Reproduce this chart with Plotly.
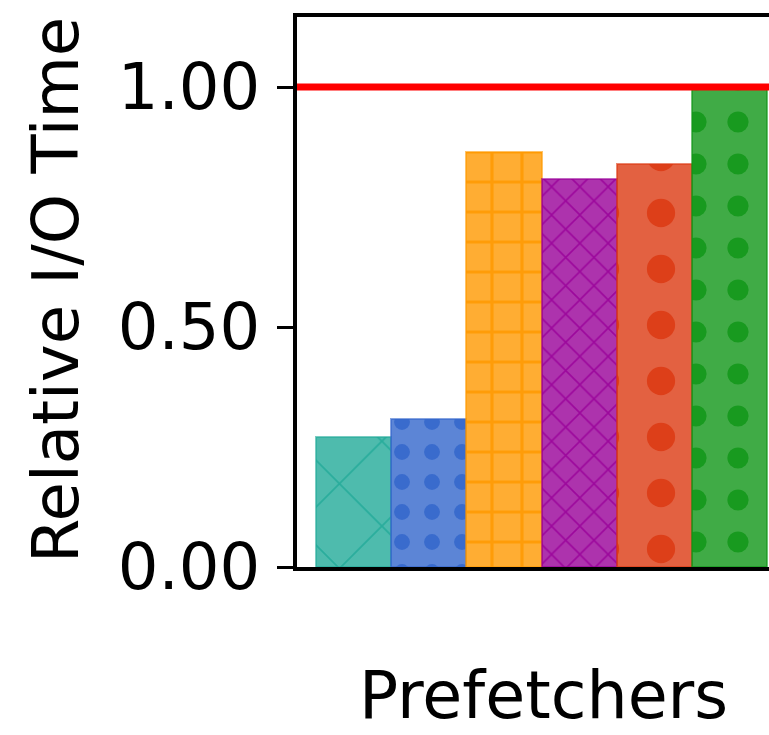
import plotly.graph_objects as go

prefetchers = ["P1", "P2", "P3", "P4", "P5", "P6"]
relative_io_time = [0.270, 0.309, 0.864, 0.808, 0.840, 0.995]
colors = ["#22AA99", "#3366CC", "#FF9900", "#990099", "#DC3912", "#109618"]
pattern_shapes = ["x", ".", "+", "x", ".", "."]
pattern_sizes = [60, 30, 30, 20, 56, 42]
pattern_solidity = [0.06, 0.22, 0.2, 0.15, 0.2, 0.2]
baseline = 1.0
y_ticks = [0.0, 0.5, 1.0]
y_tick_labels = ["0.00", "0.50", "1.00"]
group = ["Prefetchers"]

def rgba(h, a):
    h = h.lstrip("#")
    r, g, b = int(h[0:2], 16), int(h[2:4], 16), int(h[4:6], 16)
    return f"rgba({r},{g},{b},{a})"

fig = go.Figure()
for i, name in enumerate(prefetchers):
    fig.add_trace(go.Bar(
        x=group, y=[relative_io_time[i]], name=name,
        marker=dict(
            color=rgba(colors[i], 0.8),
            line=dict(color=rgba(colors[i], 0.6), width=2),
            pattern=dict(shape=pattern_shapes[i], fgcolor=colors[i],
                         fgopacity=0.85, size=pattern_sizes[i],
                         solidity=pattern_solidity[i], fillmode="overlay"),
        ),
        showlegend=False,
    ))

fig.add_hline(y=baseline, line=dict(color="#FF0000", width=7), layer="above")

font = "DejaVu Sans"
fig.update_layout(
    width=769, height=735,
    margin=dict(l=297, r=0, t=17, b=168),
    paper_bgcolor="white", plot_bgcolor="white",
    barmode="group", bargap=0, bargroupgap=0,
    font=dict(family=font, size=64, color="black"),
    xaxis=dict(type="category", range=[-0.5421, 0.5044], showticklabels=False,
               ticks="", showgrid=False, zeroline=False,
               showline=True, linecolor="black", linewidth=4, mirror=True),
    yaxis=dict(range=[0, 1.146], tickvals=y_ticks, ticktext=y_tick_labels,
               ticks="outside", ticklen=16, tickwidth=3, tickcolor="black",
               ticklabelstandoff=4,
               showgrid=False, zeroline=False,
               showline=True, linecolor="black", linewidth=4,
               tickfont=dict(family=font, size=64)),
    annotations=[
        dict(text="Prefetchers", xref="paper", yref="paper", x=0.522, y=-0.234,
             xanchor="center", yanchor="middle", showarrow=False,
             font=dict(family=font, size=65)),
        dict(text="Relative I/O Time", xref="paper", yref="paper", x=-0.51, y=0.504,
             xanchor="center", yanchor="middle", textangle=-90, showarrow=False,
             font=dict(family=font, size=64)),
    ],
)

fig.write_html("out.html", config={"displayModeBar": False},
               post_script="document.body.style.margin='0';")
